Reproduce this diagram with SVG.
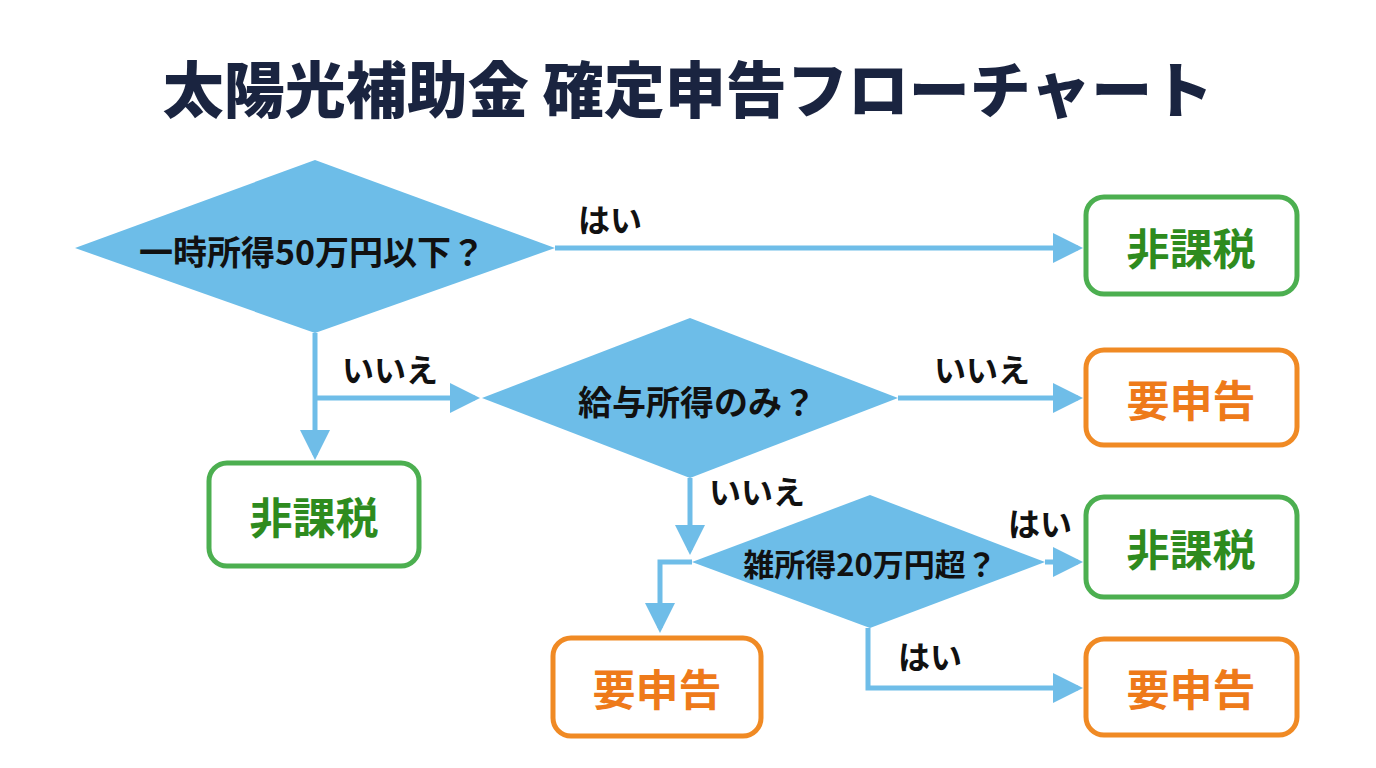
<svg xmlns="http://www.w3.org/2000/svg" width="1376" height="768" viewBox="0 0 1376 768">
<style>
text{font-family:"Noto Sans CJK JP","Noto Sans",sans-serif;font-weight:700;text-anchor:middle;dominant-baseline:central}
.d{fill:#6dbde8}
.dt{font-size:34px;fill:#111}
.lb{font-size:32px;fill:#111}
.g rect{fill:#fff;stroke:#4caf50;stroke-width:5}
.g text{fill:#2e8b1e;font-size:43px}
.o rect{fill:#fff;stroke:#f08a24;stroke-width:5}
.o text{fill:#ee7a1a;font-size:43px}
.c path{fill:none;stroke:#6fbde8;stroke-width:5}
</style>
<defs><marker id="a" markerWidth="6" markerHeight="6" refX="5" refY="3" orient="auto" markerUnits="strokeWidth"><path d="M0,0L6,3L0,6z" fill="#6fbde8"/></marker></defs>
<rect width="1376" height="768" fill="#fff"/>
<text x="688" y="86" style="font-size:61px;font-weight:900;fill:#1a2440">太陽光補助金 確定申告フローチャート</text>
<g class="c">
<path d="M555,248H1078" marker-end="url(#a)"/>
<path d="M315,333V455" marker-end="url(#a)"/>
<path d="M315,398H475" marker-end="url(#a)"/>
<path d="M898,398H1078" marker-end="url(#a)"/>
<path d="M690,478V550" marker-end="url(#a)"/>
<path d="M1045,562H1078" marker-end="url(#a)"/>
<path d="M692,562H660V628" marker-end="url(#a)"/>
<path d="M868,628V688H1078" marker-end="url(#a)"/>
</g>
<g class="lb-g">
<text class="lb" x="610" y="218">はい</text>
<text class="lb" x="390" y="368">いいえ</text>
<text class="lb" x="982" y="368">いいえ</text>
<text class="lb" x="757" y="490">いいえ</text>
<text class="lb" x="1040" y="522">はい</text>
<text class="lb" x="930" y="655">はい</text>
</g>
<g id="d1"><polygon class="d" points="75,248 315,160 555,248 315,333"/><text class="dt" x="312" y="250">一時所得50万円以下？</text></g>
<g id="d2"><polygon class="d" points="482,398 690,318 898,398 690,478"/><text class="dt" x="697" y="400">給与所得のみ？</text></g>
<g id="d3"><polygon class="d" points="692,562 870,495 1045,562 870,628"/><text class="dt" x="870" y="562" style="font-size:31px">雑所得20万円超？</text></g>
<g id="b1" class="g"><rect x="1086" y="197" width="211" height="97" rx="18"/><text x="1191" y="246">非課税</text></g>
<g id="b2" class="o"><rect x="1086" y="350" width="211" height="95" rx="18"/><text x="1191" y="398">要申告</text></g>
<g id="b3" class="g"><rect x="209" y="463" width="210" height="103" rx="18"/><text x="314" y="515">非課税</text></g>
<g id="b4" class="g"><rect x="1086" y="497" width="211" height="100" rx="18"/><text x="1191" y="547">非課税</text></g>
<g id="b5" class="o"><rect x="553" y="638" width="208" height="98" rx="18"/><text x="657" y="687">要申告</text></g>
<g id="b6" class="o"><rect x="1086" y="639" width="211" height="96" rx="18"/><text x="1191" y="687">要申告</text></g>
</svg>
